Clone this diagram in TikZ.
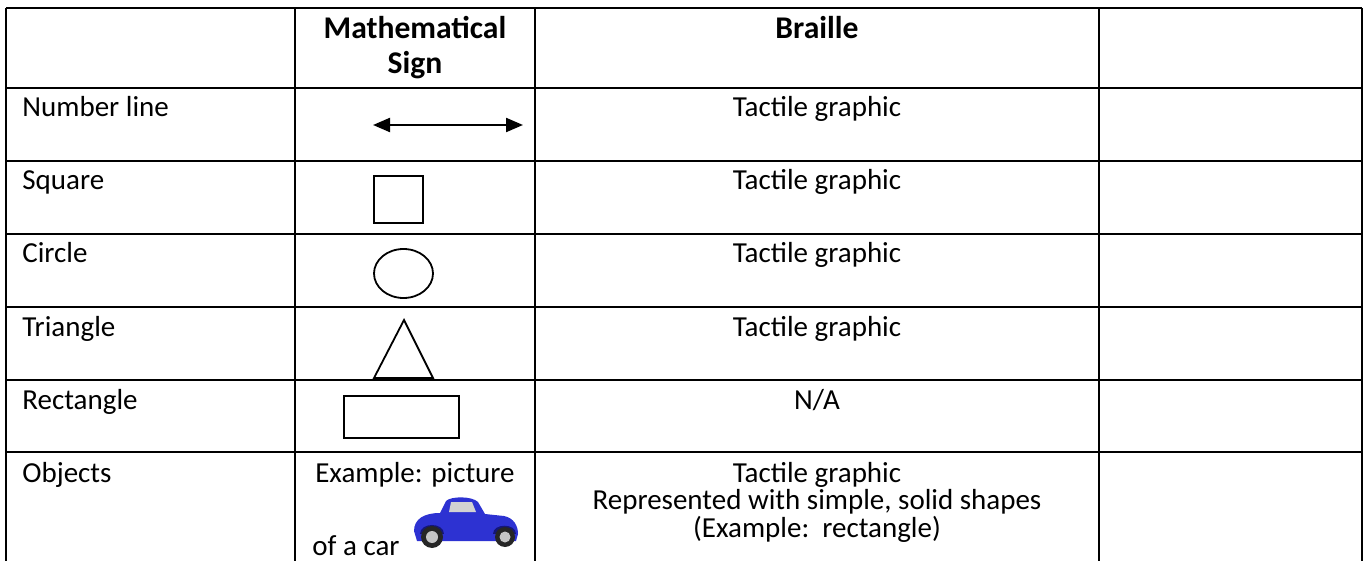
\documentclass[tikz,border=0pt]{standalone}
\usepackage{fontspec}
\setmainfont{Carlito}
\usetikzlibrary{arrows.meta}
\definecolor{carblue}{RGB}{45,50,210}
\definecolor{cardark}{RGB}{20,22,120}

\begin{document}
\begin{tikzpicture}[x=0.5pt, y=-0.5pt,
    gridline/.style={line width=1pt},
    cell/.style={anchor=base west, inner sep=0pt, font=\fontsize{14.5pt}{13.75pt}\selectfont},
    centercell/.style={anchor=base, inner sep=0pt, align=center, font=\fontsize{14.5pt}{13.75pt}\selectfont},
    head/.style={anchor=base, inner sep=0pt, align=center, font=\fontsize{15.8pt}{17.5pt}\selectfont\bfseries},
    sign/.style={draw, line width=0.9pt},
    arrow/.style={{Triangle[length=8.5pt,width=7pt]}-{Triangle[length=8.5pt,width=7pt]}, line width=1.1pt}
]
\useasboundingbox (0,0) rectangle (1365,561);

% table grid
\foreach \y in {8,88,161,234,307,380,452}
    \draw[gridline] (6,\y) -- (1362,\y);
\foreach \x in {6,295,535,1099,1362}
    \draw[gridline] (\x,8) -- (\x,561);

% header (base = last line)
\node[head] (hsign) at (415,74) {Mathematical\\Sign};
\node[head] (hbraille) at (817,39) {Braille};

% first column
\node[cell] (numline) at (22,117) {Number line};
\node[cell] (square) at (22,190) {Square};
\node[cell] (circle) at (22,263) {Circle};
\node[cell] (triangle) at (22,336) {Triangle};
\node[cell] (rect) at (22,409) {Rectangle};
\node[cell] (objects) at (22,482) {Objects};

% braille column
\node[centercell] (b1) at (817,117) {Tactile graphic};
\node[centercell] (b2) at (817,190) {Tactile graphic};
\node[centercell] (b3) at (817,263) {Tactile graphic};
\node[centercell] (b4) at (817,336) {Tactile graphic};
\node[centercell] (b5) at (817,409) {N/A};
\node[centercell] (b6) at (817,537) {Tactile graphic\\Represented with simple, solid shapes\\(Example:\ \ rectangle)};

% signs
\coordinate (nl-left) at (373,125);
\coordinate (nl-right) at (523,125);
\draw[arrow] (nl-left) -- (nl-right);
\draw[sign] (374,176) rectangle (423,223);
\draw[sign] (403.5,273.5) ellipse [x radius=29.5, y radius=24.5];
\draw[sign] (374,378) -- (404,320) -- (433,378) -- cycle;
\draw[sign] (344,396) rectangle (459,438);

\node[centercell] (example) at (415,482) {Example: picture};
\node[cell] (ofacar) at (312,555) {of a car};

% car
\fill[carblue] (414,531) .. controls (414,519) and (424,513) .. (440,513) -- (446,501)
    .. controls (451,496) and (472,496) .. (478,502) -- (485,514) -- (504,516)
    .. controls (514,518) and (518,526) .. (518,534) -- (516,541) -- (417,541) -- cycle;
\fill[gray!35] (451,502) -- (472,502) -- (476,512) -- (449,512) -- cycle;
\fill[cardark] (420,534) .. controls (420,522) and (444,522) .. (444,534) -- cycle;
\fill[cardark] (493,534) .. controls (493,523) and (516,523) .. (516,534) -- cycle;
\fill[black!85] (432,537) circle (11);
\fill[gray!45] (432,537) circle (6);
\fill[black!85] (505,537) circle (10);
\fill[gray!45] (505,537) circle (5.5);
\end{tikzpicture}
\end{document}
